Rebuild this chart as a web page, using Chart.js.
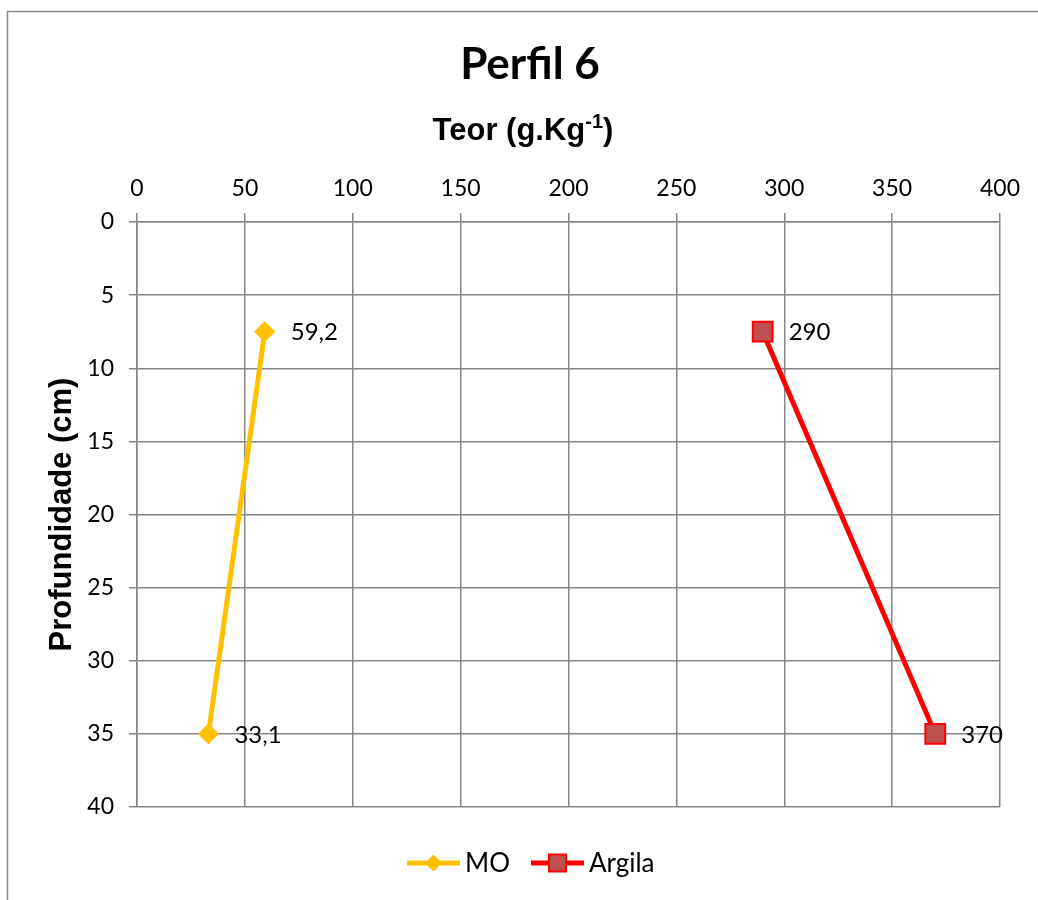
<!DOCTYPE html>
<html>
<head>
<meta charset="utf-8">
<script src="https://cdn.jsdelivr.net/npm/chart.js@4/dist/chart.umd.min.js"></script>
<style>
  html, body { margin: 0; padding: 0; background: #fff; }
  #wrap { width: 1038px; height: 900px; position: relative; }
</style>
</head>
<body>
<div id="wrap"><canvas id="chart" width="1038" height="900"></canvas></div>
<script>
// data
const depths = [7.5, 35];
const moValues = [59.2, 33.1];
const argilaValues = [290, 370];
const moLabels = ["59,2", "33,1"];
const argilaLabels = ["290", "370"];
const seriesNames = ["MO", "Argila"];

const gridColor = "#868686";
const tickFont = { family: "Lato", size: 23 };

const toPoints = (xs) => xs.map((v, i) => ({ x: v, y: depths[i] }));

// frame, titles, point labels and legend
const decor = {
  id: "decor",
  beforeDraw(chart) {
    const ctx = chart.ctx;
    ctx.save();
    ctx.fillStyle = "#fff";
    ctx.fillRect(0, 0, chart.width, chart.height);
    ctx.strokeStyle = "#8a8a8a";
    ctx.lineWidth = 1.5;
    ctx.strokeRect(7.5, 11.5, 1100, 1000);
    ctx.restore();
  },
  afterDraw(chart) {
    const ctx = chart.ctx;
    const area = chart.chartArea;
    ctx.save();
    ctx.fillStyle = "#000";
    ctx.textBaseline = "middle";

    // main title
    ctx.font = "bold 44px Lato";
    ctx.textAlign = "center";
    ctx.fillText("Perfil 6", 530, 65);

    // x axis title with superscript
    const mainTxt = "Teor (g.Kg";
    const supTxt = "-1";
    const endTxt = ")";
    ctx.font = "bold 31px 'Liberation Sans'";
    const w1 = ctx.measureText(mainTxt).width;
    const w3 = ctx.measureText(endTxt).width;
    ctx.font = "bold 20px 'Liberation Sans'";
    const w2 = ctx.measureText(supTxt).width;
    let x0 = 523 - (w1 + w2 + w3) / 2;
    ctx.textAlign = "left";
    ctx.font = "bold 31px 'Liberation Sans'";
    ctx.fillText(mainTxt, x0, 131);
    ctx.font = "bold 20px 'Liberation Sans'";
    ctx.fillText(supTxt, x0 + w1, 122);
    ctx.font = "bold 31px 'Liberation Sans'";
    ctx.fillText(endTxt, x0 + w1 + w2, 131);

    // y axis title
    ctx.save();
    ctx.translate(62, (area.top + area.bottom) / 2);
    ctx.rotate(-Math.PI / 2);
    ctx.textAlign = "center";
    ctx.fillText("Profundidade (cm)", 0, 0);
    ctx.restore();

    // point labels
    ctx.font = "24px Lato";
    ctx.textAlign = "left";
    const allLabels = [moLabels, argilaLabels];
    chart.data.datasets.forEach((ds, di) => {
      const meta = chart.getDatasetMeta(di);
      meta.data.forEach((pt, i) => {
        ctx.fillText(allLabels[di][i], pt.x + 26, pt.y + 1);
      });
    });

    // legend
    const ly = 863;
    const items = [
      { x: 407, ds: chart.data.datasets[0], r: 8 },
      { x: 531, ds: chart.data.datasets[1], r: 12 }
    ];
    ctx.font = "26px Lato";
    items.forEach((it, i) => {
      ctx.strokeStyle = it.ds.borderColor;
      ctx.lineWidth = 5;
      ctx.beginPath();
      ctx.moveTo(it.x, ly);
      ctx.lineTo(it.x + 53, ly);
      ctx.stroke();
      ctx.fillStyle = it.ds.pointBackgroundColor;
      ctx.strokeStyle = it.ds.pointBorderColor;
      ctx.lineWidth = it.ds.pointBorderWidth;
      Chart.helpers.drawPoint(ctx, {
        pointStyle: it.ds.pointStyle,
        radius: it.r,
        borderWidth: it.ds.pointBorderWidth
      }, it.x + 26.5, ly);
      ctx.fillStyle = "#000";
      ctx.fillText(seriesNames[i], it.x + 58, ly + 1);
    });
    ctx.restore();
  }
};

new Chart(document.getElementById("chart"), {
  type: "scatter",
  data: {
    datasets: [
      {
        label: seriesNames[0],
        data: toPoints(moValues),
        showLine: true,
        borderColor: "#FFC000",
        borderWidth: 5,
        pointStyle: "rectRot",
        pointRadius: 10,
        pointBackgroundColor: "#FFC000",
        pointBorderColor: "#FFC000",
        pointBorderWidth: 1
      },
      {
        label: seriesNames[1],
        data: toPoints(argilaValues),
        showLine: true,
        borderColor: "#FF0000",
        borderWidth: 5,
        pointStyle: "rect",
        pointRadius: 14,
        pointBackgroundColor: "#C0504D",
        pointBorderColor: "#FF0000",
        pointBorderWidth: 2
      }
    ]
  },
  options: {
    responsive: false,
    animation: false,
    layout: { padding: { left: 0, top: 0, right: 38, bottom: 93 } },
    plugins: {
      legend: { display: false },
      title: { display: false },
      tooltip: { enabled: false }
    },
    scales: {
      x: {
        type: "linear",
        position: "top",
        min: 0,
        max: 400,
        ticks: { stepSize: 50, color: "#000", font: tickFont, padding: 11, maxRotation: 0 },
        grid: { color: gridColor, lineWidth: 1.5, tickLength: 9, tickColor: gridColor },
        border: { display: true, color: gridColor, width: 1.5 },
        afterFit(scale) { scale.height = 222; }
      },
      y: {
        type: "linear",
        reverse: true,
        min: 0,
        max: 40,
        ticks: { stepSize: 5, color: "#000", font: tickFont, padding: 15 },
        grid: { color: gridColor, lineWidth: 1.5, tickLength: 8, tickColor: gridColor },
        border: { display: true, color: gridColor, width: 1.5 },
        afterFit(scale) { scale.width = 137; }
      }
    }
  },
  plugins: [decor]
});
</script>
</body>
</html>
